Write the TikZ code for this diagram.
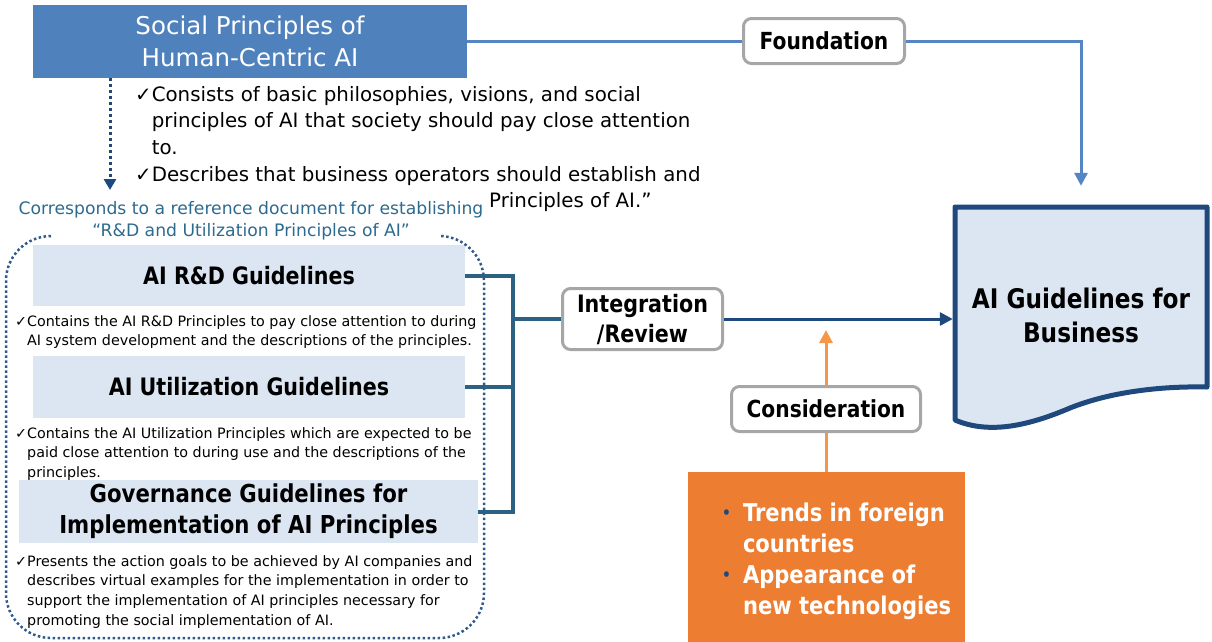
\documentclass[tikz,border=0pt]{standalone}
\usepackage{fontspec}
\setmainfont[BoldFeatures={FakeStretch=0.86}]{DejaVu Sans}
\usetikzlibrary{arrows.meta}
\definecolor{topblue}{HTML}{4F81BD}
\definecolor{lineblue}{HTML}{5585C2}
\definecolor{boxgray}{HTML}{A6A6A6}
\definecolor{lightfill}{HTML}{DCE6F2}
\definecolor{bracketc}{HTML}{2B6183}
\definecolor{darkblue}{HTML}{1F497D}
\definecolor{dotblue}{HTML}{2F5B8C}
\definecolor{tealtext}{HTML}{2D6A8F}
\definecolor{orangefill}{HTML}{ED7D31}
\definecolor{orangeline}{HTML}{F79646}
\newcommand\fsz[2]{\fontsize{#1}{#2}\selectfont}
\newcommand\rows[2]{\begin{tabular}[t]{@{}#1@{}}#2\end{tabular}}
\begin{document}
\begin{tikzpicture}[x=1pt,y=-1pt,
  lbl/.style={draw=boxgray, line width=3pt, fill=white, rounded corners=8pt, inner sep=0pt, font=\bfseries\fsz{23.5}{30}, align=center},
  lightbox/.style={fill=lightfill, inner sep=0pt, font=\bfseries\fsz{24}{31}, align=center},
  txt/.style={inner sep=0pt, anchor=base west},
  small/.style={txt, font=\fsz{14.3}{19.8}},
  blueconn/.style={lineblue, line width=3pt},
  bracketline/.style={bracketc, line width=4pt},
  tipbig/.style={-{Triangle[width=13pt,length=13pt]}}
]
\useasboundingbox (0,0) rectangle (1212,641);

% top box
\node[fill=topblue, minimum width=434pt, minimum height=73pt, inner sep=0pt, text=white, font=\fsz{24.5}{32}, align=center] (social) at (250,41) {Social Principles of\\Human-Centric AI};

% foundation
\node[lbl, minimum width=161pt, minimum height=45pt] (found) at (824,41) {Foundation};

% check text top
\node[txt, font=\fsz{19.8}{26.7}] (chktop) at (135,101) {\begin{tabular}[t]{@{}l@{}l@{}}✓&Consists of basic philosophies, visions, and social\\ &principles of AI that society should pay close attention\\ &to.\\ ✓&Describes that business operators should establish and\end{tabular}};
\node[txt, font=\fsz{19.8}{26.7}] (chkfrag) at (489,207) {Principles of AI.”};

\node[inner sep=0pt, anchor=base, font=\fsz{17.2}{22}, text=tealtext] (corr) at (251,214) {\rows{c}{Corresponds to a reference document for establishing\\“R\&D and Utilization Principles of AI”}};

% light boxes
\node[lightbox, minimum width=432pt, minimum height=61pt] (rd) at (249,275.5) {AI R\&D Guidelines};
\node[lightbox, minimum width=432pt, minimum height=62pt] (ut) at (249,387) {AI Utilization Guidelines};
\node[lightbox, minimum width=459pt, minimum height=63pt, font=\bfseries\fsz{24.7}{31}] (gov) at (248.5,511.5) {Governance Guidelines for\\Implementation of AI Principles};

\node[small] (d1) at (15,326) {\begin{tabular}[t]{@{}l@{}l@{}}✓&Contains the AI R\&D Principles to pay close attention to during\\ &AI system development and the descriptions of the principles.\end{tabular}};
\node[small] (d2) at (15,438) {\begin{tabular}[t]{@{}l@{}l@{}}✓&Contains the AI Utilization Principles which are expected to be\\ &paid close attention to during use and the descriptions of the\\ &principles.\end{tabular}};
\node[small] (d3) at (15,566) {\begin{tabular}[t]{@{}l@{}l@{}}✓&Presents the action goals to be achieved by AI companies and\\ &describes virtual examples for the implementation in order to\\ &support the implementation of AI principles necessary for\\ &promoting the social implementation of AI.\end{tabular}};

% integration
\node[lbl, minimum width=160pt, minimum height=61pt, font=\bfseries\fsz{24}{30}] (integ) at (642.5,319) {Integration\\/Review};

% brackets
\coordinate (jm) at (513,319);
\draw[bracketline] (rd.east) -- ++(48,0) |- (gov.east);
\draw[bracketline] (ut.east) -- ++(48,0);
\draw[bracketline] (jm) -- (integ.west);

% dotted box
\draw[dotblue, line width=2.5pt, dash pattern=on 2.5pt off 2.5pt, rounded corners=45pt] (51,236) -- (6,236) -- (6,638) -- (484,638) -- (484,236) -- (439,236);

% dotted arrow
\coordinate (dotstart) at (110,78);
\coordinate (dotend) at (110,190);
\draw[darkblue, line width=3pt, dash pattern=on 3pt off 3pt, -{Triangle[width=12pt,length=11pt]}] (dotstart) -- (dotend);

% document
\fill[lightfill] (955,207) -- (1207,207) -- (1207,387) .. controls (1160,386) and (1110,392) .. (1070,408) .. controls (1030,425) and (990,435) .. (955,420) -- cycle;
\node[minimum width=252pt, minimum height=216pt, inner sep=0pt, font=\bfseries\fsz{27}{34}, align=center] (doc) at (1081,315) {AI Guidelines for\\Business};
\draw[darkblue, line width=5pt, line join=round] (955,207) -- (1207,207) -- (1207,387) .. controls (1160,386) and (1110,392) .. (1070,408) .. controls (1030,425) and (990,435) .. (955,420) -- cycle;

% connectors
\draw[blueconn] (social.east) -- (found.west);
\draw[blueconn, tipbig, shorten >=21pt] (found.east) -| (doc.north);
\draw[darkblue, line width=3pt, tipbig, shorten >=2pt] (integ.east) -- (integ.east -| doc.west);

% orange
\node[fill=orangefill, minimum width=277pt, minimum height=175pt, inner sep=0pt] (orangebox) at (826.5,559.5) {};
\node[txt, text=white, font=\bfseries\fsz{24.5}{31}] (otext) at (722,521) {\begin{tabular}[t]{@{}l@{\hspace{12pt}}l@{}}\raisebox{3pt}{\textcolor{darkblue}{\fsz{16}{16}•}}&Trends in foreign\\ &countries\\ \raisebox{3pt}{\textcolor{darkblue}{\fsz{16}{16}•}}&Appearance of\\ &new technologies\end{tabular}};

\node[lbl, minimum width=189pt, minimum height=45pt] (cons) at (826,409) {Consideration};
\coordinate (consend) at (826,330);
\draw[orangeline, line width=3pt] (cons.south |- orangebox.north) -- (cons.south);
\draw[orangeline, line width=3pt, tipbig] (cons.north) -- (consend);
\end{tikzpicture}
\end{document}
